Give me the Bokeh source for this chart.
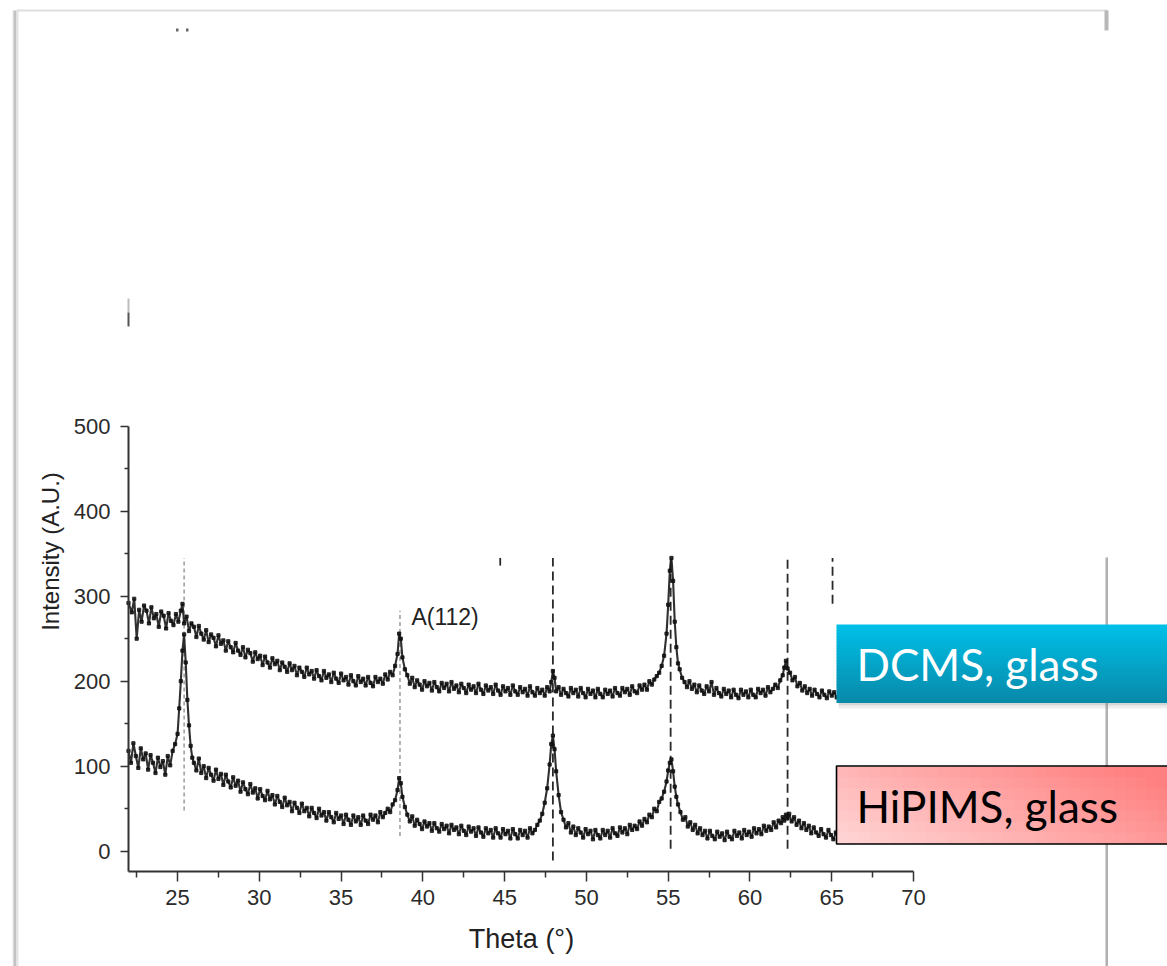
import math
from bokeh.plotting import figure
from bokeh.models import BoxAnnotation, Label, FixedTicker, Range1d, LinearAxis
from bokeh.embed import file_html
from bokeh.resources import INLINE

# ---------------- data ----------------
dcms_points = [
    (22.0, 292), (22.2, 281), (22.35, 297), (22.5, 250), (22.65, 284), (22.8, 270), (22.95, 289),
    (23.1, 283), (23.25, 268), (23.4, 287), (23.55, 274), (23.7, 279), (23.85, 264), (24.0, 282),
    (24.15, 277), (24.3, 262), (24.45, 280), (24.6, 271), (24.75, 266), (24.9, 279), (25.05, 270),
    (25.2, 283), (25.3, 291), (25.4, 268), (25.55, 276), (25.7, 259), (25.85, 268), (26.0, 264),
    (26.15, 252), (26.3, 265), (26.45, 256), (26.6, 249), (26.75, 260), (26.9, 246), (27.05, 255),
    (27.2, 251), (27.35, 241), (27.5, 254), (27.65, 244), (27.8, 248), (27.95, 236), (28.1, 247),
    (28.25, 240), (28.4, 234), (28.55, 245), (28.7, 236), (28.85, 231), (29.0, 240), (29.15, 228),
    (29.3, 237), (29.45, 233), (29.6, 223), (29.75, 234), (29.9, 226), (30.05, 230), (30.2, 219),
    (30.35, 229), (30.5, 222), (30.65, 216), (30.8, 227), (30.95, 220), (31.1, 224), (31.25, 213),
    (31.4, 222), (31.55, 217), (31.7, 211), (31.85, 221), (32.0, 213), (32.15, 218), (32.3, 207),
    (32.45, 216), (32.6, 211), (32.75, 205), (32.9, 216), (33.05, 208), (33.2, 212), (33.35, 203),
    (33.5, 213), (33.65, 206), (33.8, 201), (33.95, 212), (34.1, 204), (34.25, 208), (34.4, 199),
    (34.55, 210), (34.7, 203), (34.85, 198), (35.0, 209), (35.15, 201), (35.3, 205), (35.45, 196),
    (35.6, 207), (35.75, 200), (35.9, 195), (36.05, 206), (36.2, 199), (36.35, 203), (36.5, 195),
    (36.65, 205), (36.8, 198), (36.95, 194), (37.1, 205), (37.25, 199), (37.4, 203), (37.55, 197),
    (37.7, 208), (37.85, 202), (38.0, 211), (38.15, 207), (38.3, 218), (38.45, 232), (38.55, 256),
    (38.65, 250), (38.75, 228), (38.9, 214), (39.05, 207), (39.2, 197), (39.35, 204), (39.5, 193),
    (39.65, 201), (39.8, 196), (39.95, 190), (40.1, 200), (40.25, 194), (40.4, 198), (40.55, 189),
    (40.7, 199), (40.85, 193), (41.0, 188), (41.15, 198), (41.3, 192), (41.45, 197), (41.6, 188),
    (41.75, 199), (41.9, 191), (42.05, 195), (42.2, 187), (42.35, 197), (42.5, 192), (42.65, 186),
    (42.8, 196), (42.95, 190), (43.1, 194), (43.25, 186), (43.4, 197), (43.55, 190), (43.7, 185),
    (43.85, 195), (44.0, 189), (44.15, 193), (44.3, 185), (44.45, 196), (44.6, 189), (44.75, 184),
    (44.9, 194), (45.05, 188), (45.2, 192), (45.35, 184), (45.5, 195), (45.65, 188), (45.8, 184),
    (45.95, 193), (46.1, 187), (46.25, 191), (46.4, 183), (46.55, 194), (46.7, 187), (46.85, 183),
    (47.0, 192), (47.15, 186), (47.3, 190), (47.45, 183), (47.6, 193), (47.75, 188), (47.85, 199),
    (47.95, 212), (48.05, 204), (48.15, 188), (48.3, 193), (48.45, 184), (48.6, 191), (48.75, 186),
    (48.9, 182), (49.05, 192), (49.2, 186), (49.35, 190), (49.5, 182), (49.65, 192), (49.8, 186),
    (49.95, 181), (50.1, 191), (50.25, 185), (50.4, 189), (50.55, 181), (50.7, 191), (50.85, 185),
    (51.0, 181), (51.15, 190), (51.3, 185), (51.45, 189), (51.6, 182), (51.75, 192), (51.9, 186),
    (52.05, 183), (52.2, 192), (52.35, 187), (52.5, 191), (52.65, 184), (52.8, 194), (52.95, 188),
    (53.1, 186), (53.25, 195), (53.4, 190), (53.55, 196), (53.7, 190), (53.85, 200), (54.0, 196),
    (54.15, 202), (54.3, 206), (54.45, 210), (54.6, 218), (54.75, 230), (54.9, 256), (55.0, 290),
    (55.1, 330), (55.2, 345), (55.3, 318), (55.4, 270), (55.5, 240), (55.6, 221), (55.7, 214),
    (55.85, 204), (56.0, 199), (56.15, 193), (56.3, 200), (56.45, 191), (56.6, 196), (56.75, 187),
    (56.9, 195), (57.05, 189), (57.2, 185), (57.35, 194), (57.5, 188), (57.65, 199), (57.8, 184),
    (57.95, 192), (58.1, 186), (58.25, 182), (58.4, 191), (58.55, 185), (58.7, 189), (58.85, 181),
    (59.0, 190), (59.15, 184), (59.3, 180), (59.45, 190), (59.6, 184), (59.75, 188), (59.9, 181),
    (60.05, 190), (60.2, 184), (60.35, 181), (60.5, 191), (60.65, 186), (60.8, 190), (60.95, 183),
    (61.1, 193), (61.25, 187), (61.4, 191), (61.55, 196), (61.7, 192), (61.85, 201), (62.0, 207),
    (62.1, 216), (62.2, 224), (62.3, 215), (62.45, 210), (62.6, 201), (62.75, 205), (62.9, 194),
    (63.05, 198), (63.2, 189), (63.35, 194), (63.5, 186), (63.65, 191), (63.8, 183), (63.95, 190),
    (64.1, 185), (64.25, 181), (64.4, 189), (64.55, 184), (64.7, 180), (64.85, 188), (65.0, 183),
    (65.15, 187), (65.3, 181), (65.5, 186), (65.8, 182),
]

hipims_points = [
    (22.0, 118), (22.15, 104), (22.3, 127), (22.45, 112), (22.6, 98), (22.75, 121), (22.9, 108),
    (23.05, 115), (23.2, 96), (23.35, 113), (23.5, 104), (23.65, 92), (23.8, 110), (23.95, 99),
    (24.1, 106), (24.25, 90), (24.4, 112), (24.55, 101), (24.7, 118), (24.85, 126), (25.0, 138),
    (25.1, 168), (25.2, 200), (25.3, 236), (25.4, 255), (25.5, 222), (25.6, 178), (25.7, 148),
    (25.8, 124), (25.9, 110), (26.0, 104), (26.15, 95), (26.3, 109), (26.45, 92), (26.6, 100),
    (26.75, 86), (26.9, 98), (27.05, 90), (27.2, 83), (27.35, 96), (27.5, 85), (27.65, 91),
    (27.8, 78), (27.95, 90), (28.1, 82), (28.25, 75), (28.4, 87), (28.55, 77), (28.7, 83),
    (28.85, 70), (29.0, 81), (29.15, 73), (29.3, 67), (29.45, 79), (29.6, 69), (29.75, 74),
    (29.9, 62), (30.05, 73), (30.2, 65), (30.35, 60), (30.5, 71), (30.65, 61), (30.8, 66),
    (30.95, 55), (31.1, 65), (31.25, 58), (31.4, 52), (31.55, 63), (31.7, 54), (31.85, 58),
    (32.0, 47), (32.15, 57), (32.3, 51), (32.45, 45), (32.6, 56), (32.75, 47), (32.9, 51),
    (33.05, 41), (33.2, 51), (33.35, 45), (33.5, 39), (33.65, 50), (33.8, 42), (33.95, 46),
    (34.1, 36), (34.25, 46), (34.4, 40), (34.55, 34), (34.7, 45), (34.85, 38), (35.0, 42),
    (35.15, 32), (35.3, 43), (35.45, 37), (35.6, 31), (35.75, 42), (35.9, 35), (36.05, 40),
    (36.2, 31), (36.35, 42), (36.5, 36), (36.65, 32), (36.8, 43), (36.95, 37), (37.1, 42),
    (37.25, 34), (37.4, 46), (37.55, 40), (37.7, 45), (37.85, 50), (38.0, 46), (38.15, 55),
    (38.3, 60), (38.45, 72), (38.55, 86), (38.65, 80), (38.75, 64), (38.9, 52), (39.05, 43),
    (39.2, 35), (39.35, 41), (39.5, 30), (39.65, 37), (39.8, 32), (39.95, 26), (40.1, 35),
    (40.25, 29), (40.4, 33), (40.55, 24), (40.7, 33), (40.85, 27), (41.0, 23), (41.15, 32),
    (41.3, 26), (41.45, 30), (41.6, 21), (41.75, 31), (41.9, 25), (42.05, 28), (42.2, 20),
    (42.35, 30), (42.5, 24), (42.65, 19), (42.8, 29), (42.95, 23), (43.1, 27), (43.25, 18),
    (43.4, 28), (43.55, 22), (43.7, 17), (43.85, 27), (44.0, 21), (44.15, 25), (44.3, 16),
    (44.45, 27), (44.6, 21), (44.75, 16), (44.9, 26), (45.05, 20), (45.2, 24), (45.35, 15),
    (45.5, 26), (45.65, 20), (45.8, 15), (45.95, 25), (46.1, 19), (46.25, 24), (46.4, 16),
    (46.55, 27), (46.7, 21), (46.85, 25), (47.0, 31), (47.15, 36), (47.3, 44), (47.45, 57),
    (47.6, 74), (47.75, 102), (47.85, 126), (47.95, 136), (48.05, 120), (48.15, 94), (48.3, 66),
    (48.45, 46), (48.6, 37), (48.75, 28), (48.9, 33), (49.05, 22), (49.2, 29), (49.35, 19),
    (49.5, 27), (49.65, 22), (49.8, 16), (49.95, 26), (50.1, 20), (50.25, 24), (50.4, 14),
    (50.55, 25), (50.7, 19), (50.85, 15), (51.0, 25), (51.15, 19), (51.3, 24), (51.45, 16),
    (51.6, 27), (51.75, 21), (51.9, 18), (52.05, 28), (52.2, 22), (52.35, 27), (52.5, 20),
    (52.65, 31), (52.8, 25), (52.95, 30), (53.1, 26), (53.25, 35), (53.4, 30), (53.55, 38),
    (53.7, 34), (53.85, 43), (54.0, 40), (54.15, 50), (54.3, 47), (54.45, 58), (54.6, 62),
    (54.75, 70), (54.9, 82), (55.0, 95), (55.1, 104), (55.2, 108), (55.3, 94), (55.4, 76),
    (55.5, 64), (55.6, 55), (55.75, 46), (55.9, 37), (56.05, 40), (56.2, 29), (56.35, 34),
    (56.5, 25), (56.65, 31), (56.8, 21), (56.95, 27), (57.1, 19), (57.25, 24), (57.4, 15),
    (57.55, 24), (57.7, 18), (57.85, 14), (58.0, 23), (58.15, 17), (58.3, 21), (58.45, 13),
    (58.6, 23), (58.75, 17), (58.9, 14), (59.05, 24), (59.2, 18), (59.35, 22), (59.5, 15),
    (59.65, 25), (59.8, 19), (59.95, 23), (60.1, 17), (60.25, 27), (60.4, 21), (60.55, 26),
    (60.7, 20), (60.85, 30), (61.0, 24), (61.15, 29), (61.3, 25), (61.45, 34), (61.6, 28),
    (61.75, 36), (61.9, 33), (62.0, 40), (62.1, 36), (62.2, 43), (62.3, 39), (62.4, 44),
    (62.55, 35), (62.7, 40), (62.85, 31), (63.0, 36), (63.15, 27), (63.3, 33), (63.45, 25),
    (63.6, 30), (63.75, 21), (63.9, 28), (64.05, 22), (64.2, 18), (64.35, 26), (64.5, 20),
    (64.65, 16), (64.8, 25), (64.95, 19), (65.1, 14), (65.25, 22), (65.4, 16), (65.6, 21),
]

# reference (dashed) lines: position, lower end, upper end
ref_x = [25.4, 38.6, 44.73, 47.95, 55.15, 62.3, 65.05]
ref_lo = [48, 18, 336, -11, 3, 3, 291]
ref_hi = [345, 283, 345, 345, 345, 345, 345]
ref_light = [True, True, False, False, False, False, False]

x_major = [25, 30, 35, 40, 45, 50, 55, 60, 65, 70]
x_minor = [22.5, 27.5, 32.5, 37.5, 42.5, 47.5, 52.5, 57.5, 62.5, 67.5]
y_major = [0, 100, 200, 300, 400, 500]
y_minor = [50, 150, 250, 350, 450]
x_bounds = (22.0, 70.0)
y_bounds = (-23.9, 500.0)

peak_label = "A(112)"
peak_label_pos = (39.3, 275)
x_title = "Theta (°)"
y_title = "Intensity (A.U.)"
legend_texts = ["DCMS, glass", "HiPIMS, glass"]

# ---------------- figure: frame = whole canvas ----------------
W, H = 1167, 966
KX = 785 / 48.0          # px per degree
KY = 0.85                # px per intensity unit
XS = 22.0 - 128 / KX
XE = XS + W / KX
YE = 850.7 / KY
YS = YE - H / KY

p = figure(width=W, height=H, x_range=Range1d(XS, XE), y_range=Range1d(YS, YE),
           output_backend="svg", toolbar_location=None,
           x_axis_location=None, y_axis_location=None, min_border=0)
p.grid.visible = False
p.outline_line_color = None
p.background_fill_color = "white"
p.border_fill_color = "white"


def dx(px):
    return XS + px / KX


def dy(py):
    return YE - py / KY


def box(l, t, r, b, color, alpha=1.0):
    p.add_layout(BoxAnnotation(left=dx(l), right=dx(r), top=dy(t), bottom=dy(b),
                               fill_color=color, fill_alpha=alpha, line_color=None))


AX = "#333333"
xaxis = LinearAxis(fixed_location=y_bounds[0], bounds=x_bounds,
                   ticker=FixedTicker(ticks=x_major, minor_ticks=x_minor))
yaxis = LinearAxis(fixed_location=x_bounds[0], bounds=y_bounds,
                   ticker=FixedTicker(ticks=y_major, minor_ticks=y_minor))
for ax in (xaxis, yaxis):
    ax.axis_line_color = AX
    ax.axis_line_width = 2
    ax.major_tick_line_color = AX
    ax.minor_tick_line_color = AX
    ax.major_tick_line_width = 1.5
    ax.minor_tick_line_width = 1.5
    ax.major_tick_in = 0
    ax.minor_tick_in = 0
    ax.major_label_text_font = "Liberation Sans"
    ax.major_label_text_font_size = "22px"
    ax.major_label_text_color = "#2b2b2b"
xaxis.major_tick_out = 10
xaxis.minor_tick_out = 6
yaxis.major_tick_out = 8
yaxis.minor_tick_out = 4
xaxis.major_label_standoff = 8
yaxis.major_label_standoff = 10
p.add_layout(xaxis, "below")
p.add_layout(yaxis, "left")

# reference dashed lines
for x, lo, hi, light in zip(ref_x, ref_lo, ref_hi, ref_light):
    if light:
        p.segment(x0=[x], y0=[lo], x1=[x], y1=[hi], line_color="#8c8c8c",
                  line_width=1.3, line_dash="4 3")
    else:
        p.segment(x0=[x], y0=[lo], x1=[x], y1=[hi], line_color="#2a2a2a",
                  line_width=1.8, line_dash="9 5")

# traces (noisy, dotted look)
for pts in (dcms_points, hipims_points):
    xs = [a for a, b in pts]
    ys = [b for a, b in pts]
    p.line(xs, ys, line_color="#1a1a1a", line_width=2.1, line_alpha=0.9)
    p.scatter(xs, ys, marker="square", size=3.2, color="#111111", alpha=0.85)

p.add_layout(Label(x=peak_label_pos[0], y=peak_label_pos[1], text=peak_label,
                   text_font="Liberation Sans", text_font_size="23px",
                   text_color="#222222", text_baseline="alphabetic"))

# axis titles
p.add_layout(Label(x=dx(50), y=dy(551), text=y_title, angle=math.pi / 2,
                   text_font="Liberation Sans", text_font_size="24px",
                   text_color="#222222", text_align="center", text_baseline="middle"))
p.add_layout(Label(x=dx(521), y=dy(938), text=x_title,
                   text_font="Liberation Sans", text_font_size="27px",
                   text_color="#222222", text_align="center", text_baseline="middle"))

# ---------------- page decorations ----------------
box(12, 10, 13, 966, "#e8e8e8")
box(13, 10, 16, 966, "#c2c2c2")
box(16, 10, 18, 966, "#e4e4e4")
box(16, 9, 1107, 11, "#dedede")
box(1104, 10, 1108, 30, "#b8b8b8")
box(1105, 557, 1107.5, 966, "#b0b0b0")
box(127, 298, 129, 312, "#bdbdbd")
box(127, 312, 129, 326, "#555555")
box(175.5, 28, 178, 31, "#666666")
box(185.5, 28, 188, 31, "#666666")

# DCMS legend box (vertical gradient) with shadow
box(838, 702, 1167, 705, "#8c8c8c", 0.35)
box(838, 705, 1167, 708, "#8c8c8c", 0.15)
top_c, bot_c = (0, 191, 231), (8, 138, 170)
n = 26
y_a, y_b = 624, 702
for i in range(n):
    t = i / (n - 1)
    c = tuple(int(round(top_c[k] + (bot_c[k] - top_c[k]) * t)) for k in range(3))
    box(836, y_a + (y_b - y_a) * i / n, 1168,
        y_a + (y_b - y_a) * (i + 1) / n + 0.6, "#%02x%02x%02x" % c)

# HiPIMS legend box (diagonal gradient)
light_c, dark_c = (255, 214, 214), (255, 128, 128)
xa, xb, ya, yb = 836, 1168, 766, 843
nc, nr = 30, 7
for i in range(nc):
    for j in range(nr):
        u = (i + 0.5) / nc
        v = 1 - (j + 0.5) / nr
        t = min(1.0, 0.72 * u + 0.38 * v)
        c = tuple(int(round(light_c[k] + (dark_c[k] - light_c[k]) * t)) for k in range(3))
        box(xa + (xb - xa) * i / nc, ya + (yb - ya) * j / nr,
            xa + (xb - xa) * (i + 1) / nc + 0.6, ya + (yb - ya) * (j + 1) / nr + 0.6,
            "#%02x%02x%02x" % c)
p.add_layout(BoxAnnotation(left=dx(836), right=dx(1180), top=dy(765.5), bottom=dy(843.5),
                           fill_alpha=0, line_color="black", line_width=1.6, line_alpha=1))

p.add_layout(Label(x=dx(856), y=dy(663.5), text=legend_texts[0], text_font="Lato",
                   text_font_size="44px", text_color="white", text_baseline="alphabetic"))
p.add_layout(Label(x=dx(856), y=dy(805.5), text=legend_texts[1], text_font="Lato",
                   text_font_size="44px", text_color="black", text_baseline="alphabetic"))

open("out.html", "w").write(file_html(p, INLINE))
